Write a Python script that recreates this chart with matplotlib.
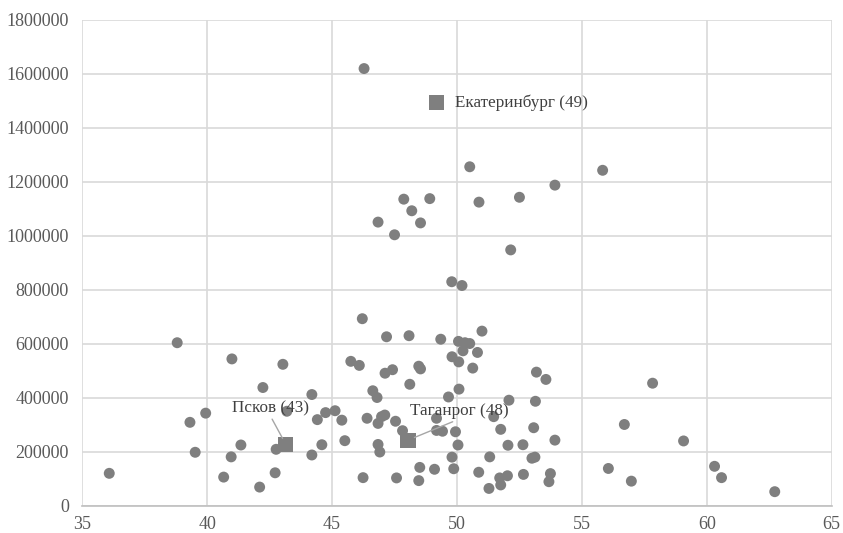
import numpy as np
import matplotlib
matplotlib.use("Agg")
import matplotlib.pyplot as plt
from matplotlib.ticker import MultipleLocator, FuncFormatter

# ordinary cities: x value, y value
x_pts = [46.28, 50.51, 55.83, 47.87, 48.91, 48.19, 46.84, 48.54, 47.50, 50.88,
         52.50, 53.92, 52.15,
         36.08, 38.80, 39.31, 39.94, 39.52, 40.99, 43.03, 42.23, 44.19, 43.19,
         41.35, 40.96, 40.66, 42.10, 42.72, 42.76, 44.19, 44.59, 44.41, 44.74,
         45.12, 45.39, 45.51, 45.75,
         46.21, 46.09, 46.24, 46.40, 46.63, 46.80, 46.84, 46.98, 47.11, 46.84,
         46.91, 47.18, 47.12, 47.42, 47.54, 47.58, 47.82, 48.08, 48.11, 48.47,
         48.54, 48.51, 48.47, 49.10, 49.18, 49.18, 49.42, 49.35, 49.66, 49.79,
         50.20, 49.80, 50.07, 50.06, 50.24, 50.51, 50.32, 50.82, 51.00, 50.63,
         50.08, 49.94, 50.04, 49.80, 49.87, 50.87, 51.28, 51.31, 51.47, 51.75,
         52.08, 51.71, 51.75, 52.02, 52.04, 52.64, 52.66, 53.07, 53.14, 53.18,
         53.56, 53.00, 53.12, 53.92, 53.74, 53.68,
         56.06, 56.70, 56.98, 57.83, 59.07, 60.31, 60.59, 62.72]
y_pts = [1620000, 1256000, 1243000, 1136000, 1138000, 1093000, 1051000, 1048000, 1004000, 1125000,
         1143000, 1188000, 948000,
         120000, 604000, 309000, 343000, 198000, 544000, 524000, 438000, 412000, 350000,
         225000, 181000, 106000, 69000, 122000, 209000, 188000, 226000, 319000, 345000,
         352000, 317000, 241000, 535000,
         693000, 520000, 104000, 324000, 426000, 401000, 305000, 330000, 336000, 227000,
         199000, 626000, 491000, 504000, 313000, 103000, 278000, 630000, 450000, 517000,
         507000, 142000, 93000, 135000, 324000, 279000, 276000, 617000, 403000, 830000,
         816000, 552000, 533000, 609000, 574000, 601000, 604000, 568000, 647000, 510000,
         432000, 274000, 225000, 180000, 137000, 124000, 64000, 181000, 330000, 283000,
         391000, 103000, 77000, 111000, 224000, 226000, 116000, 289000, 387000, 495000,
         468000, 176000, 180000, 243000, 119000, 89000,
         138000, 301000, 91000, 454000, 240000, 146000, 104000, 52000]

# highlighted cities
city_names = ["Екатеринбург (49)", "Псков (43)", "Таганрог (48)"]
city_x = [49.18, 43.15, 48.04]
city_y = [1494000, 227000, 243000]

plt.rcParams['font.family'] = ['Liberation Serif', 'DejaVu Serif']

fig = plt.figure(figsize=(8.43, 5.33), dpi=100)
ax = fig.add_axes([0.0976, 0.0512, 0.8890, 0.9113])

gray = '#7f7f7f'
ax.scatter(x_pts, y_pts, s=62, color=gray, edgecolors='none', zorder=3)
ax.scatter(city_x, city_y, s=120, marker='s', color=gray, edgecolors='none', zorder=3)

# label placements (offset in points from the marker)
offsets = [(13, 0), (-11, 26), (37, 21)]
aligns = ['left', 'center', 'center']
leaders = [False, True, True]
for name, cx, cy, off, ha, lead in zip(city_names, city_x, city_y, offsets, aligns, leaders):
    props = None
    if lead:
        props = dict(arrowstyle='-', color='#a6a6a6', lw=1, shrinkA=0, shrinkB=5,
                     relpos=(0.5, 0.0))
    ax.annotate(name, (cx, cy), xytext=off, textcoords='offset points',
                ha=ha, va='center', fontsize=12.3, color='#404040',
                arrowprops=props, zorder=4)

ax.set_xlim(35, 65)
ax.set_ylim(0, 1800000)
ax.xaxis.set_major_locator(MultipleLocator(5))
ax.yaxis.set_major_locator(MultipleLocator(200000))
ax.yaxis.set_major_formatter(FuncFormatter(lambda v, p: "%d" % v))

ax.grid(True, color='#d9d9d9', lw=1.2, zorder=0)
ax.set_axisbelow(True)
for side in ['top', 'right', 'left']:
    ax.spines[side].set_visible(False)
ax.spines['bottom'].set_color('#bfbfbf')
ax.spines['bottom'].set_linewidth(1.2)
ax.tick_params(length=0, labelsize=13, labelcolor='#595959')
ax.tick_params(axis='x', pad=7.5)
ax.tick_params(axis='y', pad=9.6)

fig.savefig("out.png", dpi=100)
